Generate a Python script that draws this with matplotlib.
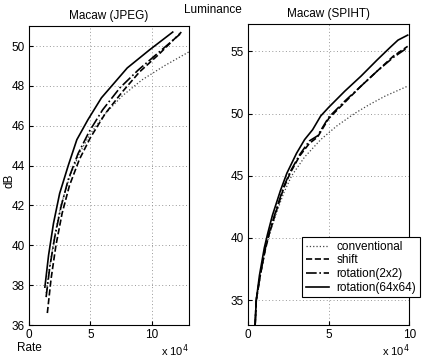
import numpy as np
import matplotlib
matplotlib.use("Agg")
import matplotlib.pyplot as plt

plt.rcParams['font.family'] = ['Liberation Sans', 'DejaVu Sans']
plt.rcParams['font.size'] = 8.5

# JPEG rate (x 1e4) and PSNR (dB)
jpeg_conv_x = [1.4, 1.7, 2.1, 2.6, 3.3, 4.1, 5.0, 6.2, 7.6, 9.2, 11.0, 13.0]
jpeg_conv_y = [37.6, 39.0, 40.5, 42.0, 43.4, 44.6, 45.6, 46.6, 47.5, 48.3, 49.0, 49.7]
jpeg_shift_x = [1.5, 1.8, 2.2, 2.7, 3.3, 4.1, 5.0, 6.2, 7.6, 9.0, 10.6, 12.4]
jpeg_shift_y = [36.6, 38.3, 40.0, 41.6, 43.0, 44.3, 45.4, 46.6, 47.7, 48.7, 49.6, 50.7]
jpeg_rot2_x = [1.4, 1.7, 2.1, 2.6, 3.2, 4.0, 4.9, 6.0, 7.4, 8.9, 10.6, 12.3]
jpeg_rot2_y = [37.4, 38.9, 40.4, 41.9, 43.3, 44.6, 45.7, 46.8, 47.9, 48.8, 49.7, 50.6]
jpeg_rot64_x = [1.3, 1.6, 2.0, 2.5, 3.2, 3.9, 4.8, 5.9, 6.6, 8.0, 9.8, 11.7]
jpeg_rot64_y = [37.9, 39.5, 41.1, 42.6, 44.0, 45.3, 46.3, 47.4, 47.9, 48.9, 49.8, 50.7]

# SPIHT rate (x 1e4) and PSNR (dB)
spiht_conv_x = [0.43, 0.5, 0.75, 1.05, 1.3, 1.7, 2.2, 2.7, 3.5, 4.5, 5.5, 6.6, 7.5, 8.5, 9.9]
spiht_conv_y = [33.0, 35.0, 37.0, 39.0, 40.2, 41.8, 43.6, 45.0, 46.5, 47.9, 49.0, 50.0, 50.7, 51.4, 52.2]
spiht_shift_x = [0.43, 0.5, 0.75, 1.05, 1.3, 1.7, 2.2, 2.6, 3.2, 3.8, 4.3, 5.0, 6.0, 7.0, 8.0, 9.0, 9.9]
spiht_shift_y = [33.0, 35.0, 37.0, 39.0, 40.3, 42.0, 44.0, 45.2, 46.6, 47.6, 48.1, 49.6, 50.9, 52.2, 53.4, 54.6, 55.4]
spiht_rot2_x = [0.43, 0.5, 0.75, 1.05, 1.3, 1.7, 2.2, 2.6, 3.2, 3.8, 4.3, 5.0, 6.0, 7.0, 8.0, 9.0, 9.9]
spiht_rot2_y = [33.0, 35.0, 37.0, 39.1, 40.4, 42.1, 44.1, 45.3, 46.7, 47.8, 48.2, 49.7, 51.0, 52.2, 53.4, 54.5, 55.3]
spiht_rot64_x = [0.43, 0.5, 0.7, 1.0, 1.2, 1.5, 2.0, 2.4, 3.0, 3.5, 4.0, 4.5, 5.0, 6.0, 7.0, 8.0, 8.8, 9.3, 9.9]
spiht_rot64_y = [33.0, 35.0, 37.0, 39.2, 40.3, 41.8, 43.8, 45.2, 46.8, 47.9, 48.7, 49.8, 50.5, 51.8, 53.0, 54.3, 55.3, 55.9, 56.3]

labels = ['conventional', 'shift', 'rotation(2x2)', 'rotation(64x64)']
styles = [':', '--', '-.', '-']

fig = plt.figure(figsize=(4.25, 3.61), dpi=100)
ax1 = fig.add_axes([0.068, 0.0997, 0.376, 0.828])
ax2 = fig.add_axes([0.584, 0.0997, 0.379, 0.834])

jpeg = [(jpeg_conv_x, jpeg_conv_y), (jpeg_shift_x, jpeg_shift_y),
        (jpeg_rot2_x, jpeg_rot2_y), (jpeg_rot64_x, jpeg_rot64_y)]
spiht = [(spiht_conv_x, spiht_conv_y), (spiht_shift_x, spiht_shift_y),
         (spiht_rot2_x, spiht_rot2_y), (spiht_rot64_x, spiht_rot64_y)]

for ax, curves in ((ax1, jpeg), (ax2, spiht)):
    for (x, y), ls, lab in zip(curves, styles, labels):
        if ls == ':':
            ax.plot(x, y, color='#444444', linestyle=ls, linewidth=0.9, label=lab)
        else:
            ax.plot(x, y, color='black', linestyle=ls, linewidth=1.2, label=lab)

ax1.set_xlim(0, 13)
ax1.set_ylim(36, 51)
ax1.set_xticks([0, 5, 10])
ax1.set_yticks([36, 38, 40, 42, 44, 46, 48, 50])
ax2.set_xlim(0, 10)
ax2.set_ylim(33, 57.2)
ax2.set_xticks([0, 5, 10])
ax2.set_yticks([35, 40, 45, 50, 55])

for ax in (ax1, ax2):
    ax.grid(True, linestyle=(0, (1, 2.5)), color='#999999', linewidth=0.7)
    ax.tick_params(direction='in', length=3, labelsize=8.5, pad=3)
    for s in ax.spines.values():
        s.set_linewidth(0.8)

ax1.set_title('Macaw (JPEG)', fontsize=8.5, pad=5)
ax2.set_title('Macaw (SPIHT)', fontsize=8.5, pad=5)
fig.text(0.5, 0.972, 'Luminance', ha='center', va='center', fontsize=8.5)
fig.text(0.07, 0.036, 'Rate', ha='center', va='center', fontsize=8.5)
fig.text(0.022, 0.5, 'dB', ha='center', va='center', rotation=90, fontsize=8.5)
ax1.text(1.0, -0.085, 'x 10$^4$', transform=ax1.transAxes, ha='right', va='center', fontsize=8)
ax2.text(1.0, -0.085, 'x 10$^4$', transform=ax2.transAxes, ha='right', va='center', fontsize=8)

leg = ax2.legend(loc='upper left', bbox_to_anchor=(0.335, 0.292), fontsize=8.5,
                 fancybox=False, framealpha=1, edgecolor='black', handlelength=2.0,
                 borderpad=0.3, labelspacing=0.15, handletextpad=0.6, borderaxespad=0)
leg.get_frame().set_linewidth(0.8)

fig.savefig('out.png', dpi=100)
